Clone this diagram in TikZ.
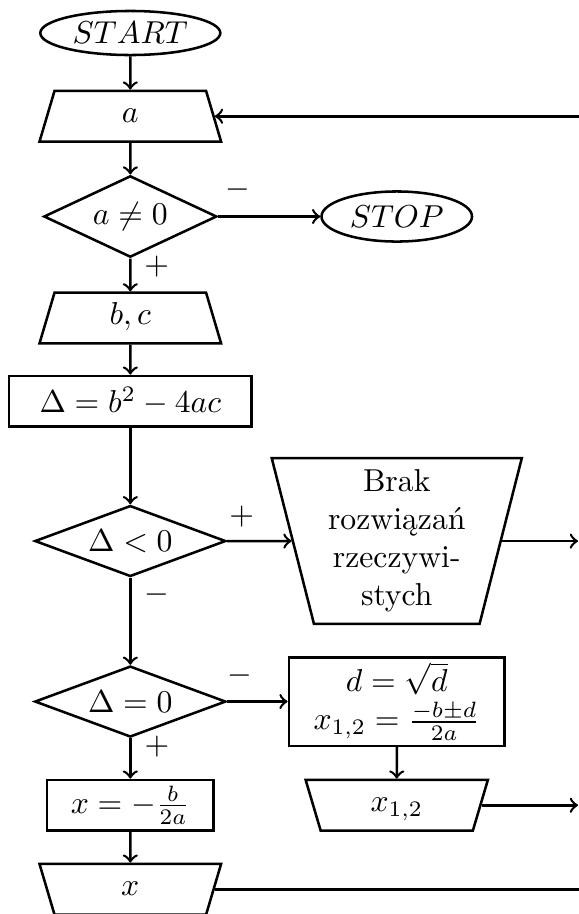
\documentclass[tikz,border=0pt]{standalone}
\usetikzlibrary{shapes.geometric}
\begin{document}
\begin{tikzpicture}[
	thick, >=to,
	term/.style={ ellipse, draw, inner sep=0pt },
	slanted/.style={ trapezium, draw, trapezium left angle=73.5, trapezium right angle=73.5, trapezium stretches body=true },
	io/.style={ slanted, inner xsep=0pt, inner ysep=4pt, text height=6pt, text depth=2pt, minimum width=57.3pt },
	ioinv/.style={ io, shape border rotate=180 },
	msgbox/.style={ slanted, shape border rotate=180, inner sep=0pt, align=center },
	decision/.style={ diamond, draw, aspect=2, inner sep=0pt },
	process/.style={ rectangle, draw, inner sep=0pt, minimum height=16pt }
]
\useasboundingbox (0,0) rectangle (6.41,-10.136);

\node[term, minimum width=56.8pt, minimum height=13.9pt] at (1.445,-0.366) (start) {$START$};
\node[io] at (1.445,-1.289) (a) {$a$};
\node[decision, minimum width=54.6pt, minimum height=25.7pt] at (1.445,-2.401) (dec1) {$a\neq0$};
\node[term, minimum width=47.5pt, minimum height=15.8pt] at (4.40,-2.401) (stop) {$STOP$};
\node[io] at (1.445,-3.527) (bc) {$b,c$};
\node[process, minimum width=76.6pt] at (1.445,-4.450) (delta) {$\Delta=b^2-4ac$};
\node[decision, minimum width=60.3pt, minimum height=22.4pt] at (1.445,-6.0) (dec2) {$\Delta<0$};
\node[msgbox, minimum width=78.9pt, minimum height=52.3pt] at (4.40,-6.0) (brak) {Brak\\rozwiązań\\rzeczywi-\\stych};
\node[decision, minimum width=60.3pt, minimum height=22.4pt] at (1.445,-7.78) (dec3) {$\Delta=0$};
\node[process, align=center, minimum width=68.1pt, minimum height=27.9pt] at (4.40,-7.78) (roots) {$d=\sqrt{d}$\\$x_{1,2}=\frac{-b\pm d}{2a}$};
\node[process, minimum width=52.6pt] at (1.445,-8.93) (xbox) {$x=-\frac{b}{2a}$};
\node[ioinv, minimum width=57.5pt] at (4.40,-8.93) (x12) {$x_{1,2}$};
\node[ioinv] at (1.445,-9.862) (xout) {$x$};

\node at (2.64,-2.107) (m1) {$-$};
\node at (1.738,-2.958) (p1) {$+$};
\node at (2.68,-5.73) (p2) {$+$};
\node at (1.741,-6.599) (m2) {$-$};
\node at (2.662,-7.497) (m3) {$-$};
\node at (1.741,-8.281) (p3) {$+$};

\draw[->] (start) -- (a);
\draw[->] (a) -- (dec1);
\draw[->] (dec1) -- (stop);
\draw[->] (dec1) -- (bc);
\draw[->] (bc) -- (delta);
\draw[->] (delta) -- (dec2);
\draw[->] (dec2) -- (brak);
\draw[->] (dec2) -- (dec3);
\draw[->] (dec3) -- (roots);
\draw[->] (dec3) -- (xbox);
\draw[->] (roots) -- (x12);
\draw[->] (xbox) -- (xout);

% return line just beyond the right edge
\coordinate (rim) at (6.41,0);
\coordinate (ret) at (6.50,-1.289);
\draw[->] (xout.east) -| (ret) -- (a.east);
\draw[->] (brak.east) -- (brak.east -| rim);
\draw[->] (x12.east) -- (x12.east -| rim);

\end{tikzpicture}
\end{document}
